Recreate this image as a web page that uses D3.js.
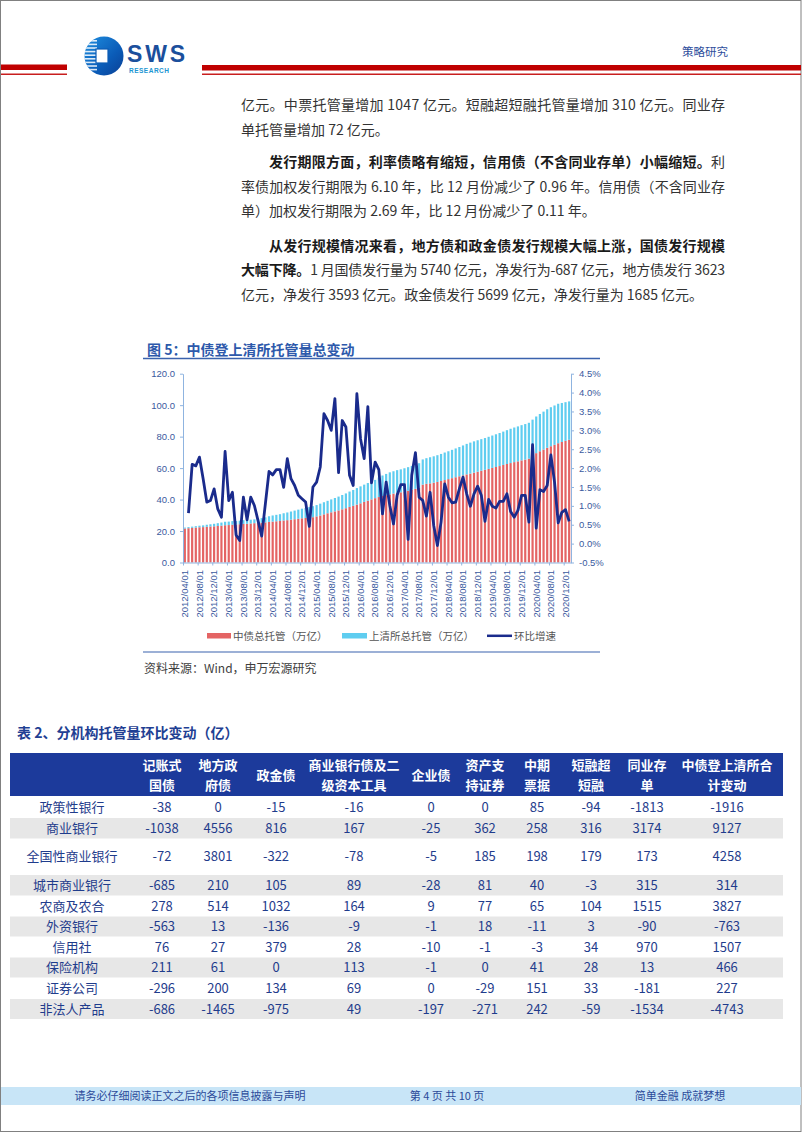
<!doctype html>
<html>
<head>
<meta charset="utf-8">
<title>中债登上清所托管量总变动</title>
<script src="https://d3js.org/d3.v7.min.js"></script>
<style>
  body { margin: 0; background: #fff; }
  svg { display: block; font-family: "Noto Sans CJK SC", "Noto Sans", sans-serif; }
</style>
</head>
<body>
<svg id="page" width="802" height="1133"></svg>
<script>
// ---- chart data (万亿 / %) ----
// 中债总托管, 2012/04 - 2021/01
const zhongzhai = [21.6,21.8,22.0,22.2,22.4,22.5,22.7,22.9,23.0,23.2,23.4,23.7,
  23.8,24.0,24.1,24.3,24.5,24.6,24.8,25.0,25.1,25.3,25.5,25.8,
  26.0,26.2,26.4,26.7,26.9,27.2,27.5,27.8,28.1,28.3,28.5,28.8,
  29.3,29.9,30.6,31.3,31.9,32.5,33.1,33.8,34.5,35.3,36.0,36.8,
  37.6,38.5,39.3,40.1,40.9,41.6,42.3,42.8,43.3,43.8,44.3,44.6,
  45.1,45.6,46.2,46.8,47.5,49.5,50.0,50.3,50.7,51.2,51.8,52.4,
  53.0,53.6,54.2,54.8,55.4,56.0,56.5,57.1,57.7,58.3,58.9,59.5,
  60.1,60.7,61.3,62.0,62.6,63.2,63.8,64.3,64.9,65.4,66.0,67.8,
  69.5,70.7,71.8,72.9,73.9,74.8,75.8,76.6,77.3,78.0];
// 上清所总托管 (stacked on top)
const shangqing = [0.6,0.7,0.8,0.9,1.0,1.1,1.3,1.4,1.6,1.8,2.0,2.2,
  2.2,2.3,2.3,2.3,2.4,2.4,2.4,2.4,2.6,2.9,3.2,3.6,
  3.9,4.1,4.3,4.6,4.9,5.2,5.5,5.8,6.1,6.4,6.7,7.0,
  7.2,7.5,7.7,7.9,8.2,8.5,8.8,9.1,9.4,9.8,10.1,10.5,
  10.8,11.0,11.2,11.4,11.6,12.4,13.0,13.5,14.0,14.2,14.4,14.6,
  14.8,15.0,15.2,15.4,15.6,16.0,16.3,16.6,16.8,17.0,17.2,17.5,
  17.7,18.0,18.3,18.6,19.0,19.4,19.7,19.9,20.0,20.1,20.2,20.4,
  20.6,20.8,21.0,21.2,21.5,21.8,22.0,22.2,22.4,22.6,22.8,23.0,
  23.3,23.7,24.1,24.5,24.8,25.0,25.1,24.8,24.6,24.4];
// 环比增速 %, from 2012/05
const growth = [0.81,2.10,2.06,2.29,1.72,1.10,1.14,1.45,0.92,0.70,2.44,1.14,
  1.36,0.23,0.08,1.23,0.63,1.23,1.01,0.61,0.20,1.05,1.91,1.82,
  1.96,1.96,1.49,2.25,1.72,1.54,1.28,1.19,1.10,0.46,1.50,1.63,
  2.03,3.44,3.26,3.00,3.84,1.88,3.26,3.09,1.81,1.54,3.97,2.78,
  2.25,3.63,1.61,2.16,1.96,0.79,1.63,1.01,0.52,1.28,1.56,1.56,
  0.11,1.81,2.41,1.23,1.14,0.73,1.36,0.48,-0.05,0.57,1.58,1.23,
  1.08,1.10,1.45,1.76,1.32,0.99,1.32,1.52,1.28,0.59,1.17,0.99,
  0.94,1.12,1.12,1.32,0.85,0.70,0.88,1.28,1.28,0.57,2.62,0.41,
  1.43,1.38,1.54,2.35,1.63,0.55,0.83,0.90,0.59];
const xTickLabels = ["2012/04/01","2012/08/01","2012/12/01","2013/04/01","2013/08/01","2013/12/01",
  "2014/04/01","2014/08/01","2014/12/01","2015/04/01","2015/08/01","2015/12/01",
  "2016/04/01","2016/08/01","2016/12/01","2017/04/01","2017/08/01","2017/12/01",
  "2018/04/01","2018/08/01","2018/12/01","2019/04/01","2019/08/01","2019/12/01",
  "2020/04/01","2020/08/01","2020/12/01"];
const leftTicks = [0,20,40,60,80,100,120];
const rightTicks = [-0.5,0,0.5,1,1.5,2,2.5,3,3.5,4,4.5];

// ---- table data ----
const tableHeaders = [["记账式","国债"],["地方政","府债"],["政金债"],["商业银行债及二","级资本工具"],["企业债"],
  ["资产支","持证券"],["中期","票据"],["短融超","短融"],["同业存","单"],["中债登上清所合","计变动"]];
const institutions = ["政策性银行","商业银行","全国性商业银行","城市商业银行","农商及农合","外资银行","信用社","保险机构","证券公司","非法人产品"];
const tableValues = [
  [-38,0,-15,-16,0,0,85,-94,-1813,-1916],
  [-1038,4556,816,167,-25,362,258,316,3174,9127],
  [-72,3801,-322,-78,-5,185,198,179,173,4258],
  [-685,210,105,89,-28,81,40,-3,315,314],
  [278,514,1032,164,9,77,65,104,1515,3827],
  [-563,13,-136,-9,-1,18,-11,3,-90,-763],
  [76,27,379,28,-10,-1,-3,34,970,1507],
  [211,61,0,113,-1,0,41,28,13,466],
  [-296,200,134,69,0,-29,151,33,-181,227],
  [-686,-1465,-975,49,-197,-271,242,-59,-1534,-4743]
];

const svg = d3.select("#page");

// page frame
svg.append("rect").attr("x",0.5).attr("y",0.5).attr("width",800.5).attr("height",1131)
  .attr("fill","none").attr("stroke","#808080").attr("stroke-width",1);

// ---- header ----
const hdr = svg.append("g");
hdr.append("rect").attr("x",1).attr("y",64.5).attr("width",66).attr("height",5.5).attr("fill","#c00000");
hdr.append("rect").attr("x",1).attr("y",73.5).attr("width",66).attr("height",1.5).attr("fill","#c81e1e");
hdr.append("rect").attr("x",202).attr("y",65).attr("width",599).attr("height",5.5).attr("fill","#c00000");
hdr.append("rect").attr("x",202).attr("y",73.5).attr("width",599).attr("height",1.5).attr("fill","#c81e1e");

const defs = svg.append("defs");
const lg = defs.append("linearGradient").attr("id","logoGrad").attr("x1","0").attr("y1","0").attr("x2","1").attr("y2","1");
lg.append("stop").attr("offset","0").attr("stop-color","#1f8fe0");
lg.append("stop").attr("offset","0.6").attr("stop-color","#0b5cb8");
lg.append("stop").attr("offset","1").attr("stop-color","#0a3f94");
defs.append("clipPath").attr("id","logoClip").append("circle").attr("cx",104).attr("cy",56).attr("r",19.5);
hdr.append("circle").attr("cx",104).attr("cy",56).attr("r",19.5).attr("fill","url(#logoGrad)");
const stripes = hdr.append("g").attr("clip-path","url(#logoClip)");
d3.range(9).forEach(k => {
  stripes.append("rect").attr("x",84).attr("y",40 + k*3.6).attr("width",13).attr("height",1.6).attr("fill","#fff").attr("opacity",0.85);
});
hdr.append("rect").attr("x",96).attr("y",49).attr("width",12).attr("height",14).attr("fill","#fff").attr("stroke","#0d5cb5").attr("stroke-width",1.2);
hdr.append("text").attr("x",127).attr("y",61.5).attr("font-family","Liberation Sans, Arial, sans-serif")
  .attr("font-weight","bold").attr("font-size",23).attr("fill","#1b4f9c").attr("textLength",58).text("SWS");
hdr.append("text").attr("x",129).attr("y",73).attr("font-family","Liberation Sans, Arial, sans-serif")
  .attr("font-weight","bold").attr("font-size",6.5).attr("fill","#2196d3").attr("textLength",40).text("RESEARCH");
hdr.append("text").attr("x",682).attr("y",56).attr("font-size",11.5).attr("fill","#2e4d9c").text("策略研究");

// ---- body text ----
const bodyLines = [
  {x:241, y:110, just:true, parts:[["亿元。中票托管量增加 1047 亿元。短融超短融托管量增加 310 亿元。同业存",0]]},
  {x:241, y:134.5, just:false, parts:[["单托管量增加 72 亿元。",0]]},
  {x:269, y:167, just:true, parts:[["发行期限方面，利率债略有缩短，信用债（不含同业存单）小幅缩短。",1],["利",0]]},
  {x:241, y:191.5, just:true, parts:[["率债加权发行期限为 6.10 年，比 12 月份减少了 0.96 年。信用债（不含同业存",0]]},
  {x:241, y:216, just:false, parts:[["单）加权发行期限为 2.69 年，比 12 月份减少了 0.11 年。",0]]},
  {x:269, y:250.5, just:true, parts:[["从发行规模情况来看，地方债和政金债发行规模大幅上涨，国债发行规模",1]]},
  {x:241, y:275, just:true, parts:[["大幅下降。",1],["1 月国债发行量为 5740 亿元，净发行为-687 亿元，地方债发行 3623",0]]},
  {x:241, y:299.5, just:false, parts:[["亿元，净发行 3593 亿元。政金债发行 5699 亿元，净发行量为 1685 亿元。",0]]}
];
const textRight = 725;
bodyLines.forEach(l => {
  const t = svg.append("text").attr("x", l.x).attr("y", l.y).attr("font-size", 14).attr("fill", "#333");
  l.parts.forEach(p => {
    t.append("tspan").attr("font-weight", p[1] ? "bold" : "normal").attr("fill", p[1] ? "#1a1a1a" : "#333").text(p[0]);
  });
  if (l.just) {
    const n = l.parts.map(p => p[0]).join("").length;
    const w = t.node().getComputedTextLength();
    t.attr("letter-spacing", (textRight - l.x - w) / (n - 1));
  }
});

// ---- chart ----
const months = d3.timeMonth.range(new Date(2012,3,1), new Date(2021,1,1)).map(d3.timeFormat("%Y/%m/%d"));
const rows = months.map((m,i) => ({month:m, zz:zhongzhai[i], sq:shangqing[i]}));
const stacked = d3.stack().keys(["zz","sq"])(rows);

const x = d3.scaleBand().domain(months).range([183, 571]).paddingInner(0.4).paddingOuter(0.2);
const y = d3.scaleLinear().domain([0,120]).range([562.5, 373.7]);
const y2 = d3.scaleLinear().domain([-0.5,4.5]).range([562.5, 373.7]);
const axisColor = "#8fb4e0", labelColor = "#3a5a9e";

svg.append("text").attr("x",147).attr("y",355).attr("font-size",14).attr("font-weight","bold")
  .attr("fill","#2d59ab").text("图 5：中债登上清所托管量总变动");
svg.append("line").attr("x1",143).attr("x2",600).attr("y1",358.5).attr("y2",358.5)
  .attr("stroke","#3a62ad").attr("stroke-width",1.5);

const chart = svg.append("g");
const barColors = ["#e46464","#5fcdf0"];
stacked.forEach((s, k) => {
  chart.append("g").selectAll("rect").data(s).join("rect")
    .attr("x", d => x(d.data.month))
    .attr("y", d => y(d[1]))
    .attr("width", x.bandwidth())
    .attr("height", d => y(d[0]) - y(d[1]))
    .attr("fill", barColors[k]);
});

function styleAxis(g) {
  g.select(".domain").attr("stroke", axisColor);
  g.selectAll(".tick line").attr("stroke", axisColor);
  g.selectAll(".tick text").attr("fill", labelColor).attr("font-family","Liberation Sans, Arial, sans-serif").attr("font-size", 9.5);
}

chart.append("g").attr("transform","translate(183,0)")
  .call(d3.axisLeft(y).tickValues(leftTicks).tickFormat(d3.format(".1f")).tickSize(3).tickPadding(5).tickSizeOuter(0))
  .call(styleAxis);
chart.append("g").attr("transform","translate(571,0)")
  .call(d3.axisRight(y2).tickValues(rightTicks).tickFormat(d => d.toFixed(1) + "%").tickSize(3).tickPadding(5).tickSizeOuter(0))
  .call(styleAxis);

// x axis: tick marks at every 4th category boundary, labels centered on categories
const xb = d3.scaleLinear().domain([0, months.length]).range([183, 571]);
chart.append("g").attr("transform","translate(0,562.5)")
  .call(d3.axisBottom(xb).tickValues(d3.range(0, months.length, 4)).tickFormat("").tickSize(3).tickSizeOuter(0))
  .call(styleAxis);
const xAxisG = chart.append("g").attr("transform","translate(0,562.5)")
  .call(d3.axisBottom(x).tickValues(months.filter(m => xTickLabels.includes(m))).tickSize(0).tickSizeOuter(0))
  .call(styleAxis);
xAxisG.select(".domain").remove();
xAxisG.selectAll(".tick text")
  .attr("transform","rotate(-90)")
  .attr("text-anchor","end")
  .attr("x",-7.5).attr("y",0).attr("dy","0.35em");

const line = d3.line()
  .x((d,i) => x(months[i+1]) + x.bandwidth()/2)
  .y(d => y2(d));
chart.append("path").datum(growth).attr("d", line)
  .attr("fill","none").attr("stroke","#1a2b8c").attr("stroke-width",2.8).attr("stroke-linejoin","round");

// legend
const legend = svg.append("g").attr("font-size",10.5).attr("fill","#555");
legend.append("rect").attr("x",207).attr("y",633).attr("width",24).attr("height",5.5).attr("fill",barColors[0]);
legend.append("text").attr("x",233).attr("y",640).text("中债总托管（万亿）");
legend.append("rect").attr("x",342).attr("y",633).attr("width",25).attr("height",5.5).attr("fill",barColors[1]);
legend.append("text").attr("x",369).attr("y",640).text("上清所总托管（万亿）");
legend.append("line").attr("x1",487).attr("x2",512).attr("y1",635.8).attr("y2",635.8).attr("stroke","#1a2b8c").attr("stroke-width",2.5);
legend.append("text").attr("x",514).attr("y",640).text("环比增速");

svg.append("line").attr("x1",143).attr("x2",600).attr("y1",652).attr("y2",652)
  .attr("stroke","#3a62ad").attr("stroke-width",1.2);
svg.append("text").attr("x",144).attr("y",672.5).attr("font-size",12).attr("fill","#404040")
  .text("资料来源：Wind，申万宏源研究");

// ---- table ----
svg.append("text").attr("x",17).attr("y",738).attr("font-size",14).attr("font-weight","bold")
  .attr("fill","#1f3f93").text("表 2、分机构托管量环比变动（亿）");

const colX = [72,162,218,276,354,431,485,537,591,647,727];
const rowH = [22,20.5,36.5,20.5,21,20,21,20,21.5,20];
const tableLeft = 10, tableRight = 783, headTop = 753, headBottom = 796;
const tbl = svg.append("g");
tbl.append("rect").attr("x",tableLeft).attr("y",headTop).attr("width",tableRight-tableLeft).attr("height",headBottom-headTop).attr("fill","#1c3a9b");
tableHeaders.forEach((h, j) => {
  h.forEach((s, k) => {
    const cy = h.length === 1 ? 775 : (k === 0 ? 765 : 785);
    tbl.append("text").attr("x", colX[j+1]).attr("y", cy + 4.5).attr("text-anchor","middle")
      .attr("font-size",13).attr("font-weight","bold").attr("fill","#fff").text(s);
  });
});
let rowTop = headBottom;
institutions.forEach((name, r) => {
  const h = rowH[r];
  if (r % 2 === 1) tbl.append("rect").attr("x",tableLeft).attr("y",rowTop).attr("width",tableRight-tableLeft).attr("height",h).attr("fill","#e7e7e7");
  const cy = rowTop + h/2 + 4.5;
  tbl.append("text").attr("x", colX[0]).attr("y", cy).attr("text-anchor","middle").attr("font-size",13).attr("fill","#1f3c8c").text(name);
  tableValues[r].forEach((v, j) => {
    tbl.append("text").attr("x", colX[j+1]).attr("y", cy).attr("text-anchor","middle").attr("font-size",13).attr("fill","#1f3c8c").text(v);
  });
  rowTop += h;
});

// ---- footer ----
svg.append("rect").attr("x",1).attr("y",1087).attr("width",800).attr("height",18).attr("fill","#c8e5f7");
const foot = svg.append("g").attr("font-size",11).attr("fill","#2b4a9a").attr("text-anchor","middle");
foot.append("text").attr("x",190).attr("y",1100).text("请务必仔细阅读正文之后的各项信息披露与声明");
foot.append("text").attr("x",447).attr("y",1100).text("第 4 页 共 10 页");
foot.append("text").attr("x",680).attr("y",1100).text("简单金融 成就梦想");
</script>
</body>
</html>
